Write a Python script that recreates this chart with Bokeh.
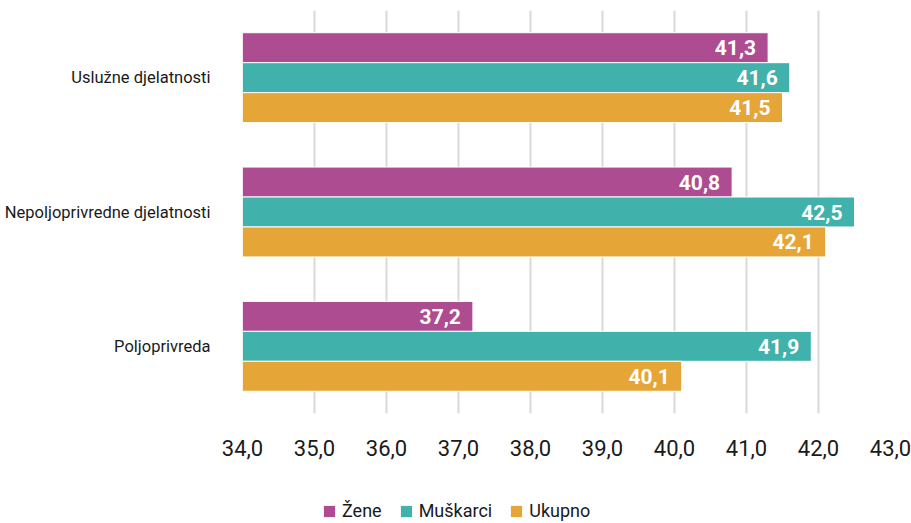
from bokeh.plotting import figure
from bokeh.layouts import column
from bokeh.models import (ColumnDataSource, FactorRange, Range1d, FixedTicker,
                          LabelSet, Legend, LegendItem)
from bokeh.transform import dodge
from bokeh.core.properties import value
from bokeh.embed import file_html
from bokeh.resources import INLINE

# ---- data ----
categories = ["Uslužne djelatnosti", "Nepoljoprivredne djelatnosti", "Poljoprivreda"]
zene = [41.3, 40.8, 37.2]
muskarci = [41.6, 42.5, 41.9]
ukupno = [41.5, 42.1, 40.1]
series_names = ["Žene", "Muškarci", "Ukupno"]
x_ticks = [34, 35, 36, 37, 38, 39, 40, 41, 42, 43]
x_tick_labels = ["34,0", "35,0", "36,0", "37,0", "38,0", "39,0", "40,0", "41,0", "42,0", "43,0"]

FONT = "Roboto"
colors = ["#AD4C90", "#41B1AB", "#E6A537"]
X_START, X_END = 34, 43

def fmt(v):
    return f"{v:.1f}".replace(".", ",")

src = ColumnDataSource(dict(
    cat=categories,
    zene=zene, muskarci=muskarci, ukupno=ukupno,
    zene_lbl=[fmt(v) for v in zene],
    muskarci_lbl=[fmt(v) for v in muskarci],
    ukupno_lbl=[fmt(v) for v in ukupno],
))

p = figure(width=911, height=490, output_backend="svg", toolbar_location=None,
           y_range=FactorRange(*reversed(categories), range_padding=0),
           x_range=Range1d(X_START, X_END),
           min_border_left=242, min_border_right=21, min_border_top=10,
           min_border_bottom=77)
p.outline_line_color = None

bar_h = 0.223
offsets = [bar_h, 0.0, -bar_h]
keys = ["zene", "muskarci", "ukupno"]
for key, off, col in zip(keys, offsets, colors):
    p.hbar(y=dodge("cat", off, range=p.y_range), left=X_START, right=key,
           height=bar_h, source=src, fill_color=col, line_color="white",
           line_width=1)
    lbl = LabelSet(x=key, y=dodge("cat", off, range=p.y_range), text=key + "_lbl",
                   source=src, x_offset=-12, text_align="right",
                   text_baseline="middle", text_color="white",
                   text_font=value(FONT), text_font_style="bold",
                   text_font_size="21px")
    p.add_layout(lbl)

# axes
p.xaxis.ticker = FixedTicker(ticks=x_ticks)
p.xaxis.major_label_overrides = {t: l for t, l in zip(x_ticks, x_tick_labels)}
p.xaxis.axis_line_color = None
p.xaxis.major_tick_line_color = None
p.xaxis.minor_tick_line_color = None
p.xaxis.major_label_text_font = FONT
p.xaxis.major_label_text_font_size = "22px"
p.xaxis.major_label_text_color = "#1a1a1a"
p.xaxis.major_label_standoff = 20

p.yaxis.axis_line_color = None
p.yaxis.major_tick_line_color = None
p.yaxis.minor_tick_line_color = None
p.yaxis.major_label_text_font = FONT
p.yaxis.major_label_text_font_size = "16.5px"
p.yaxis.major_label_text_color = "#1a1a1a"
p.yaxis.major_label_standoff = 26

p.xgrid.ticker = FixedTicker(ticks=x_ticks)
p.xgrid.grid_line_color = "#d9d9d9"
p.xgrid.grid_line_width = 2
p.ygrid.grid_line_color = None

# ---- legend strip (zero-width swatch renderers, only used for the legend) ----
pl = figure(width=911, height=33, output_backend="svg", toolbar_location=None,
            min_border=0, x_range=Range1d(0, 1), y_range=Range1d(0, 1))
pl.outline_line_color = None
pl.axis.visible = False
pl.grid.visible = False
swatch = ColumnDataSource(dict(y=[0.5], right=[0.0]))
leg_renderers = [pl.hbar(y="y", left=0.0, right="right", height=0.0, source=swatch,
                         fill_color=c, line_color=None) for c in colors]
legend = Legend(items=[LegendItem(label=n, renderers=[r]) for n, r in zip(series_names, leg_renderers)],
                orientation="horizontal", location=(80, 2),
                padding=0, margin=0, spacing=17, label_standoff=6,
                glyph_width=14, glyph_height=14, label_height=14,
                label_text_font=FONT, label_text_font_size="18px",
                label_text_color="#1a1a1a", border_line_color=None,
                background_fill_alpha=0)
pl.add_layout(legend, "center")

layout = column(p, pl, spacing=0)
open("out.html", "w").write(file_html(layout, INLINE))
